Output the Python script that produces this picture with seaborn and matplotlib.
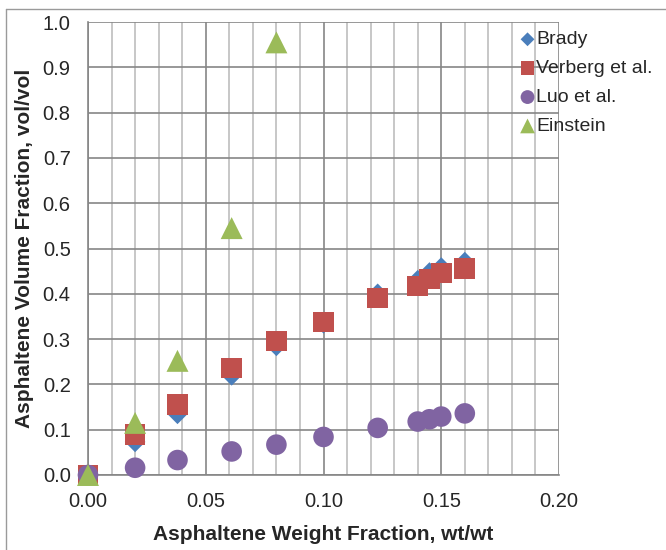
import matplotlib
matplotlib.use("Agg")
import matplotlib.pyplot as plt
import seaborn as sns
import numpy as np
from matplotlib.lines import Line2D

sns.set_style("white")
plt.rcParams['font.family'] = ['Liberation Sans', 'DejaVu Sans']

x_vals = [0.0, 0.02, 0.038, 0.061, 0.08, 0.10, 0.123, 0.14, 0.145, 0.15, 0.16]
brady = [0.0, 0.073, 0.135, 0.22, 0.285, 0.335, 0.40, 0.43, 0.447, 0.458, 0.47]
verberg = [0.0, 0.089, 0.155, 0.236, 0.296, 0.338, 0.391, 0.417, 0.433, 0.446, 0.456]
luo = [0.0, 0.016, 0.033, 0.052, 0.067, 0.084, 0.104, 0.118, 0.123, 0.129, 0.136]
einstein_x = [0.0, 0.02, 0.038, 0.061, 0.08]
einstein = [0.0, 0.115, 0.252, 0.545, 0.955]

series = [
    ("Brady", x_vals, brady, "D", "#4a7ebb", 110),
    ("Verberg et al.", x_vals, verberg, "s", "#c0504d", 220),
    ("Luo et al.", x_vals, luo, "o", "#8064a2", 220),
    ("Einstein", einstein_x, einstein, "^", "#9bbb59", 250),
]

fig = plt.figure(figsize=(6.66, 5.5), dpi=100)
ax = fig.add_axes([88/666, 1-475/550, (559-88)/666, (475-22)/550])

for name, xs, ys, mk, col, s in series:
    sns.scatterplot(x=xs, y=ys, marker=mk, color=col, s=s, edgecolor='none',
                    label=name, ax=ax, zorder=5, clip_on=False)

ax.set_xlim(0, 0.2)
ax.set_ylim(0, 1.0)
ax.set_xticks(np.arange(0, 0.201, 0.05))
ax.set_xticks(np.arange(0, 0.201, 0.01), minor=True)
ax.set_yticks(np.arange(0, 1.01, 0.1))
ax.set_xticklabels([f"{v:.2f}" for v in np.arange(0, 0.201, 0.05)])
ax.set_yticklabels([f"{v:.1f}" for v in np.arange(0, 1.01, 0.1)])
ax.grid(which='major', color='#868686', linewidth=1.2)
ax.grid(which='minor', axis='x', color='#bdbdbd', linewidth=1.2)
ax.set_axisbelow(True)
for sp in ['top', 'right']:
    ax.spines[sp].set_visible(False)
for sp in ['left', 'bottom']:
    ax.spines[sp].set_color('#868686')
    ax.spines[sp].set_linewidth(1.2)
ax.tick_params(axis='both', which='major', labelsize=14.5, color='#868686', width=1.2, direction='out')
ax.tick_params(axis='x', which='major', length=5.5, pad=7)
ax.tick_params(axis='y', which='major', length=4.5, pad=8)
ax.tick_params(axis='x', which='minor', length=0)
ax.set_xlabel("Asphaltene Weight Fraction, wt/wt", fontsize=15, fontweight='bold', labelpad=10)
ax.set_ylabel("Asphaltene Volume Fraction, vol/vol", fontsize=15, fontweight='bold', labelpad=6)

leg = ax.legend(loc='upper left', bbox_to_anchor=(511/666, 1-23/550), bbox_transform=fig.transFigure,
                frameon=False, fontsize=14, handletextpad=0.0, labelspacing=0.58,
                borderaxespad=0, handlelength=0.9)
for h, (name, xs, ys, mk, col, s) in zip(leg.legend_handles, series):
    h.set_sizes([s * 0.45])

fig.add_artist(Line2D([6/666, 6/666], [0, 1-9/550], transform=fig.transFigure, color='#9a9a9a', linewidth=1))
fig.add_artist(Line2D([6/666, 1], [1-9/550, 1-9/550], transform=fig.transFigure, color='#9a9a9a', linewidth=1))
fig.savefig("out.png", dpi=100)
